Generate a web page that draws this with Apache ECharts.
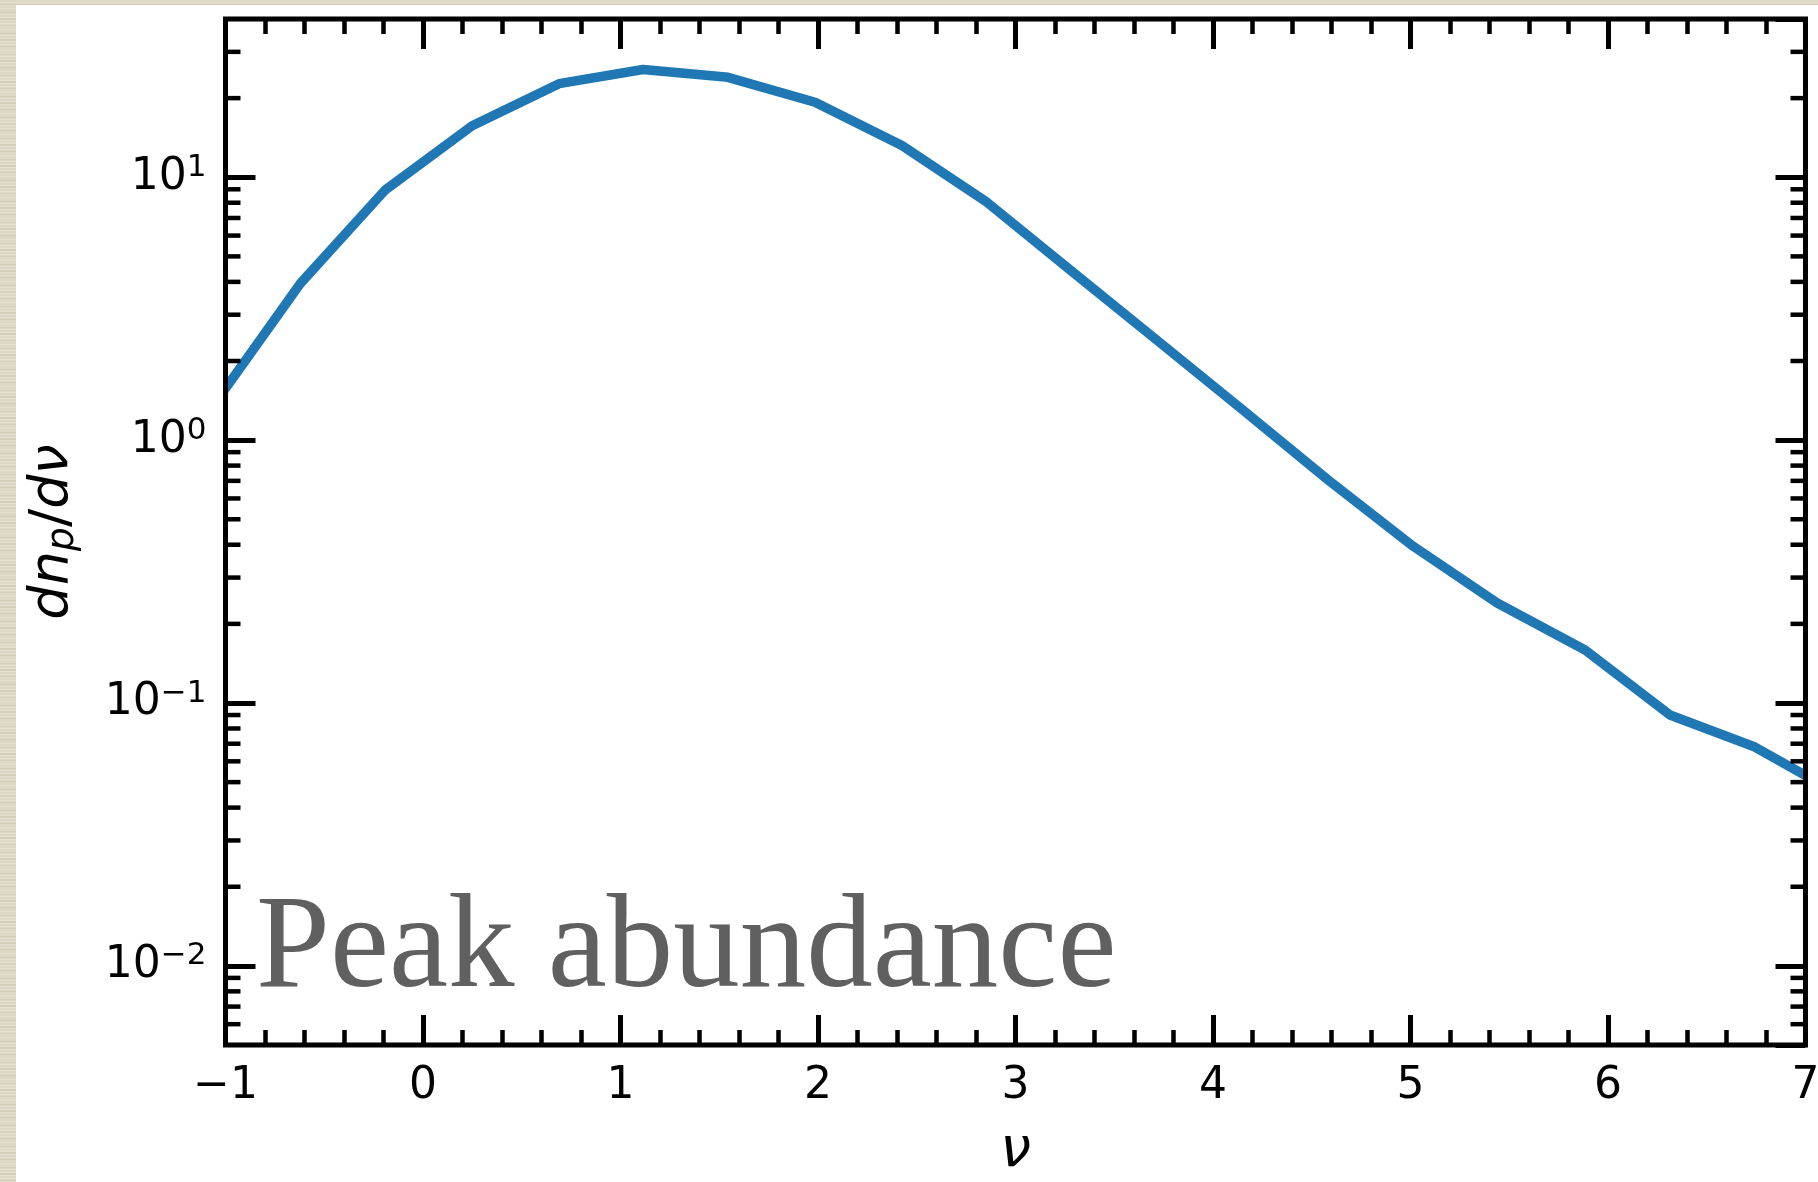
<!DOCTYPE html>
<html>
<head>
<meta charset="utf-8">
<script src="https://cdn.jsdelivr.net/npm/echarts@6/dist/echarts.min.js"></script>
<style>
  html, body { margin: 0; padding: 0; }
  body {
    width: 1818px; height: 1182px; position: relative; overflow: hidden;
    background-color: #ddd7c3;
    background-image:
      repeating-linear-gradient(0deg, rgba(255,255,255,0.22) 0px, rgba(255,255,255,0.22) 1px, rgba(0,0,0,0) 1px, rgba(0,0,0,0) 3px),
      repeating-linear-gradient(0deg, rgba(120,100,60,0.08) 0px, rgba(120,100,60,0.08) 2px, rgba(0,0,0,0) 2px, rgba(0,0,0,0) 7px);
  }
  #sheet { position: absolute; left: 16px; top: 5px; right: 0; bottom: 0; background: #ffffff; }
  #chart { position: absolute; left: 0; top: 0; width: 1818px; height: 1182px; }
</style>
</head>
<body>
<div id="sheet"></div>
<div id="chart"></div>
<script>
// Peak number density per unit peak height, dn_p/dnu, as a function of nu
const nu = [-1.051, -0.620, -0.192, 0.249, 0.689, 1.114, 1.544, 1.985, 2.425, 2.856,
            3.291, 3.722, 4.152, 4.583, 5.013, 5.439, 5.884, 6.314, 6.744, 7.175];
const dnpdnu = [1.39, 3.95, 8.93, 15.7, 22.7, 25.7, 24.0, 19.3, 13.2, 8.03,
                4.35, 2.38, 1.30, 0.705, 0.395, 0.240, 0.159, 0.090, 0.068, 0.0447];

// axis ranges and tick values
const xRange = [-1, 7];
const xTickStep = 1;
const yRange = [0.005, 40];
const yMinorTicks = [0.006, 0.007, 0.008, 0.009,
                     0.02, 0.03, 0.04, 0.05, 0.06, 0.07, 0.08, 0.09,
                     0.2, 0.3, 0.4, 0.5, 0.6, 0.7, 0.8, 0.9,
                     2, 3, 4, 5, 6, 7, 8, 9,
                     20, 30];

const FONT = '"DejaVu Sans", sans-serif';
const MAJOR_LEN = 30, MINOR_LEN = 15;

function xLabel(v) { return v < 0 ? '\u2212' + (-v) : String(v); }
function yLabel(v) {
  const e = Math.log10(v);
  const r = Math.round(e);
  if (Math.abs(e - r) > 1e-6) return '';
  const s = r < 0 ? '\u2212' + (-r) : String(r);
  return '{b|10}{s|' + s + '}';
}

const chart = echarts.init(document.getElementById('chart'), null, { renderer: 'canvas' });

const baseX = {
  type: 'value', min: xRange[0], max: xRange[1], interval: xTickStep,
  axisLine: { show: false, onZero: false },
  axisTick: { show: true, inside: true, length: MAJOR_LEN, lineStyle: { color: '#000', width: 5 } },
  minorTick: { show: true, splitNumber: 5, length: MINOR_LEN, lineStyle: { color: '#000', width: 4.5 } },
  splitLine: { show: false }, minorSplitLine: { show: false }, z: 3
};
const baseY = {
  type: 'log', logBase: 10, min: yRange[0], max: yRange[1], splitNumber: 4,
  axisLine: { show: false, onZero: false },
  axisTick: { show: true, inside: true, length: MAJOR_LEN, lineStyle: { color: '#000', width: 5 } },
  splitLine: { show: false }, z: 3
};

const option = {
  animation: false,
  backgroundColor: 'transparent',
  grid: {
    left: 225.5, right: 12.5, top: 19, bottom: 137,
    show: true, borderColor: '#000', borderWidth: 5, backgroundColor: 'transparent',
    containLabel: false, outerBoundsMode: 'none', z: 4
  },
  xAxis: [
    Object.assign({}, baseX, {
      position: 'bottom',
      axisLabel: { show: true, margin: 20, fontSize: 44, fontFamily: FONT, color: '#000',
                   formatter: xLabel, showMinLabel: true, showMaxLabel: true, hideOverlap: false },
      name: '\u03bd', nameLocation: 'middle', nameGap: 79,
      nameTextStyle: { fontSize: 55, fontFamily: FONT, fontStyle: 'italic', color: '#000' }
    }),
    Object.assign({}, baseX, { position: 'top', axisLabel: { show: false } })
  ],
  yAxis: [
    Object.assign({}, baseY, {
      position: 'left',
      axisLabel: {
        show: true, margin: 19, color: '#000', formatter: yLabel,
        showMinLabel: false, showMaxLabel: false, hideOverlap: false,
        rich: {
          b: { fontSize: 44, fontFamily: FONT, color: '#000', lineHeight: 50, verticalAlign: 'middle' },
          s: { fontSize: 31, fontFamily: FONT, color: '#000', lineHeight: 24, verticalAlign: 'top' }
        }
      },
      name: '{i|dn}{sub|p}{r|/}{i|d\u03bd}',
      nameLocation: 'middle', nameRotate: 90, nameGap: 143,
      nameTextStyle: {
        color: '#000',
        rich: {
          i: { fontSize: 54, fontFamily: FONT, fontStyle: 'italic', color: '#000', lineHeight: 60, verticalAlign: 'middle' },
          sub: { fontSize: 38, fontFamily: FONT, fontStyle: 'italic', color: '#000', lineHeight: 30, verticalAlign: 'bottom' },
          r: { fontSize: 54, fontFamily: FONT, color: '#000', lineHeight: 60, verticalAlign: 'middle' }
        }
      }
    }),
    Object.assign({}, baseY, { position: 'right', axisLabel: { show: false } })
  ],
  series: [
    {
      // the dn_p/dnu curve as one polyline, clipped to the plotting area
      type: 'custom',
      xAxisIndex: 0, yAxisIndex: 0,
      clip: true, silent: true, z: 2,
      data: nu.map((x, i) => [x, dnpdnu[i]]),
      encode: { x: 0, y: 1 },
      renderItem: function (params, api) {
        if (params.dataIndex !== 0) return null;
        const pts = nu.map((x, i) => api.coord([x, dnpdnu[i]]));
        return {
          type: 'polyline',
          shape: { points: pts },
          style: { stroke: '#1f77b4', lineWidth: 9.5, fill: null, lineJoin: 'round', lineCap: 'butt' }
        };
      }
    },
    {
      // minor ticks of the logarithmic y axes (2..9 within each decade), left and right
      type: 'custom',
      xAxisIndex: 0, yAxisIndex: 0,
      silent: true, z: 3,
      data: yMinorTicks.map(v => [xRange[0], v]),
      encode: { x: 0, y: 1 },
      renderItem: function (params, api) {
        const v = api.value(1);
        const pl = api.coord([xRange[0], v]);
        const pr = api.coord([xRange[1], v]);
        const st = { stroke: '#000', lineWidth: 4.5 };
        return {
          type: 'group',
          children: [
            { type: 'line', shape: { x1: pl[0], y1: pl[1], x2: pl[0] + MINOR_LEN, y2: pl[1] }, style: st },
            { type: 'line', shape: { x1: pr[0] - MINOR_LEN, y1: pr[1], x2: pr[0], y2: pr[1] }, style: st }
          ]
        };
      }
    }
  ],
  graphic: [
    {
      type: 'text', left: 256, top: 885, z: 5,
      style: { text: 'Peak abundance', font: '133px "Liberation Serif", "Times New Roman", serif', fill: '#606060' }
    }
  ]
};

chart.setOption(option);
</script>
</body>
</html>
